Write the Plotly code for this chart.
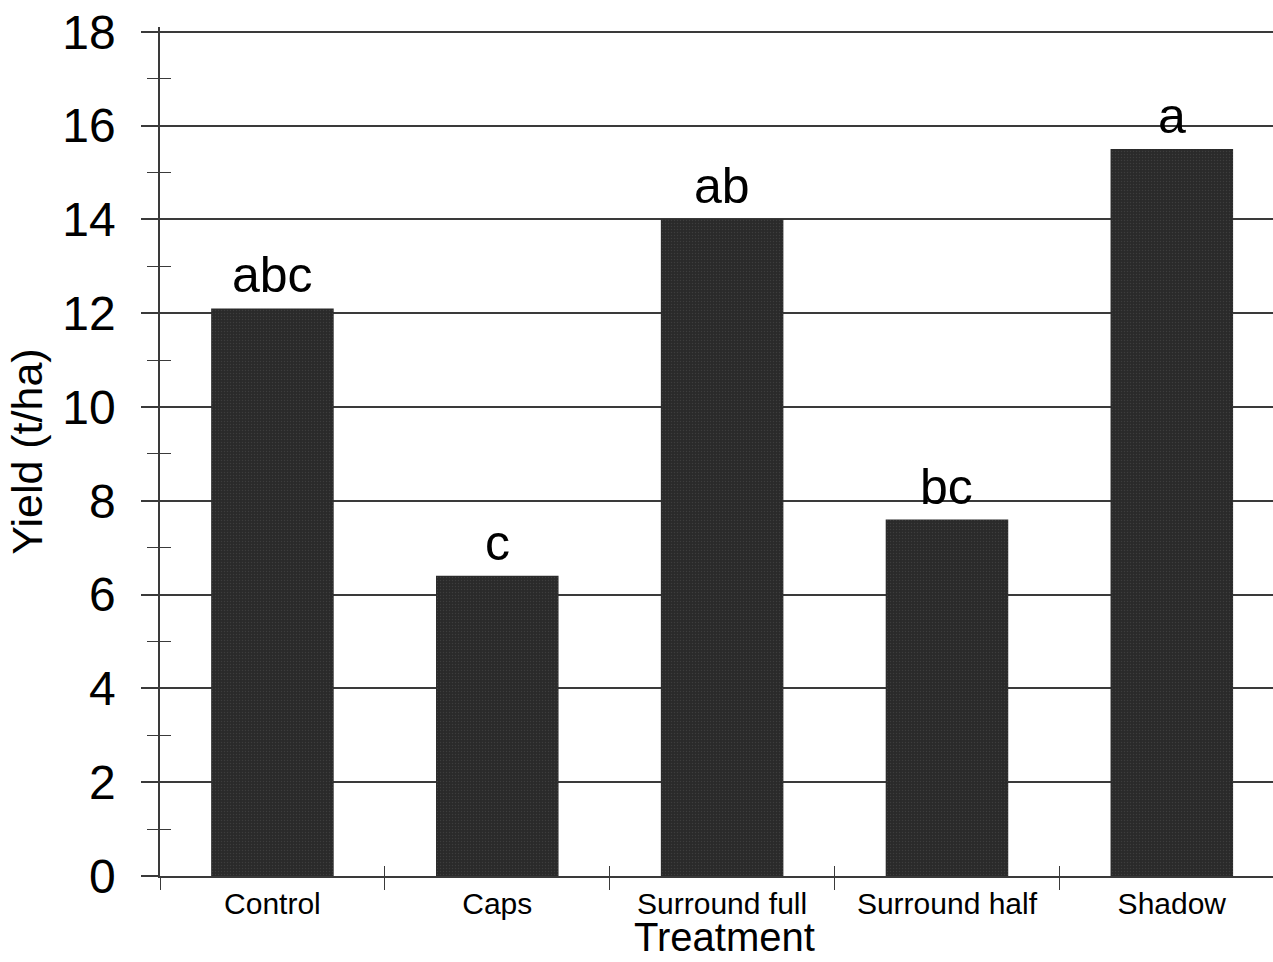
import plotly.graph_objects as go

categories = ["Control", "Caps", "Surround full", "Surround half", "Shadow"]
yield_t_ha = [12.1, 6.4, 14.0, 7.6, 15.5]
letters = ["abc", "c", "ab", "bc", "a"]
y_ticks = list(range(0, 19, 2))

FONT = "Liberation Sans, Arial, sans-serif"
BAR = "#2a2a2a"
LINE = "#3a3a3a"

fig = go.Figure()
fig.add_trace(go.Bar(
    x=categories, y=yield_t_ha, width=0.545,
    marker=dict(color=BAR, line=dict(width=0),
                pattern=dict(shape=".", fgcolor="#505050", bgcolor=BAR, size=3, solidity=0.15)),
    showlegend=False, hoverinfo="x+y",
))
# invisible helper trace for the secondary axes (inner tick marks)
fig.add_trace(go.Scatter(x=categories, y=[0] * len(categories), xaxis="x2", yaxis="y2",
                         mode="markers", marker=dict(opacity=0), showlegend=False, hoverinfo="skip"))

for c, v, t in zip(categories, yield_t_ha, letters):
    fig.add_annotation(x=c, y=v, text=t, showarrow=False, yanchor="bottom", yshift=3,
                       font=dict(family=FONT, size=50, color="black"))

fig.add_annotation(xref="paper", yref="paper", x=0.5076, y=0, yshift=-38, yanchor="top",
                   text="Treatment", showarrow=False, borderpad=0,
                   font=dict(family=FONT, size=40, color="black"))

fig.update_layout(
    width=1273, height=962,
    margin=dict(l=160, r=0, t=27, b=86),
    paper_bgcolor="white", plot_bgcolor="white",
    bargap=0.455,
    font=dict(family=FONT, color="black"),
    xaxis=dict(
        type="category", range=[-0.5, 4.45],
        tickson="boundaries", ticks="outside", ticklen=12, tickwidth=1.2, tickcolor=LINE,
        showline=True, linecolor=LINE, linewidth=1.5,
        showgrid=False,
        tickfont=dict(family=FONT, size=30, color="black"),
    ),
    xaxis2=dict(
        type="category", range=[-0.5, 4.45], overlaying="x", anchor="y2", side="bottom",
        tickson="boundaries", ticks="inside", ticklen=10, tickwidth=1.2, tickcolor=LINE,
        showticklabels=False, showgrid=False, showline=False,
    ),
    yaxis=dict(
        range=[0, 18.1], tickvals=y_ticks,
        ticks="outside", ticklen=17, tickwidth=1.5, tickcolor=LINE,
        showline=True, linecolor=LINE, linewidth=1.5,
        showgrid=True, gridcolor=LINE, gridwidth=1.5,
        zeroline=False,
        ticklabelstandoff=16,
        tickfont=dict(family=FONT, size=48, color="black"),
        minor=dict(dtick=1, ticks="outside", ticklen=11, tickwidth=1.2, tickcolor=LINE, showgrid=False),
        title=dict(text="Yield (t/ha)", font=dict(family=FONT, size=43, color="black"), standoff=6),
    ),
    yaxis2=dict(
        overlaying="y", anchor="x", side="left", range=[0, 18.1],
        tickvals=y_ticks, showticklabels=False, ticks="inside", ticklen=0, showgrid=False, zeroline=False,
        minor=dict(dtick=1, ticks="inside", ticklen=11, tickwidth=1.2, tickcolor=LINE, showgrid=False),
    ),
)

fig.write_html("out.html")
